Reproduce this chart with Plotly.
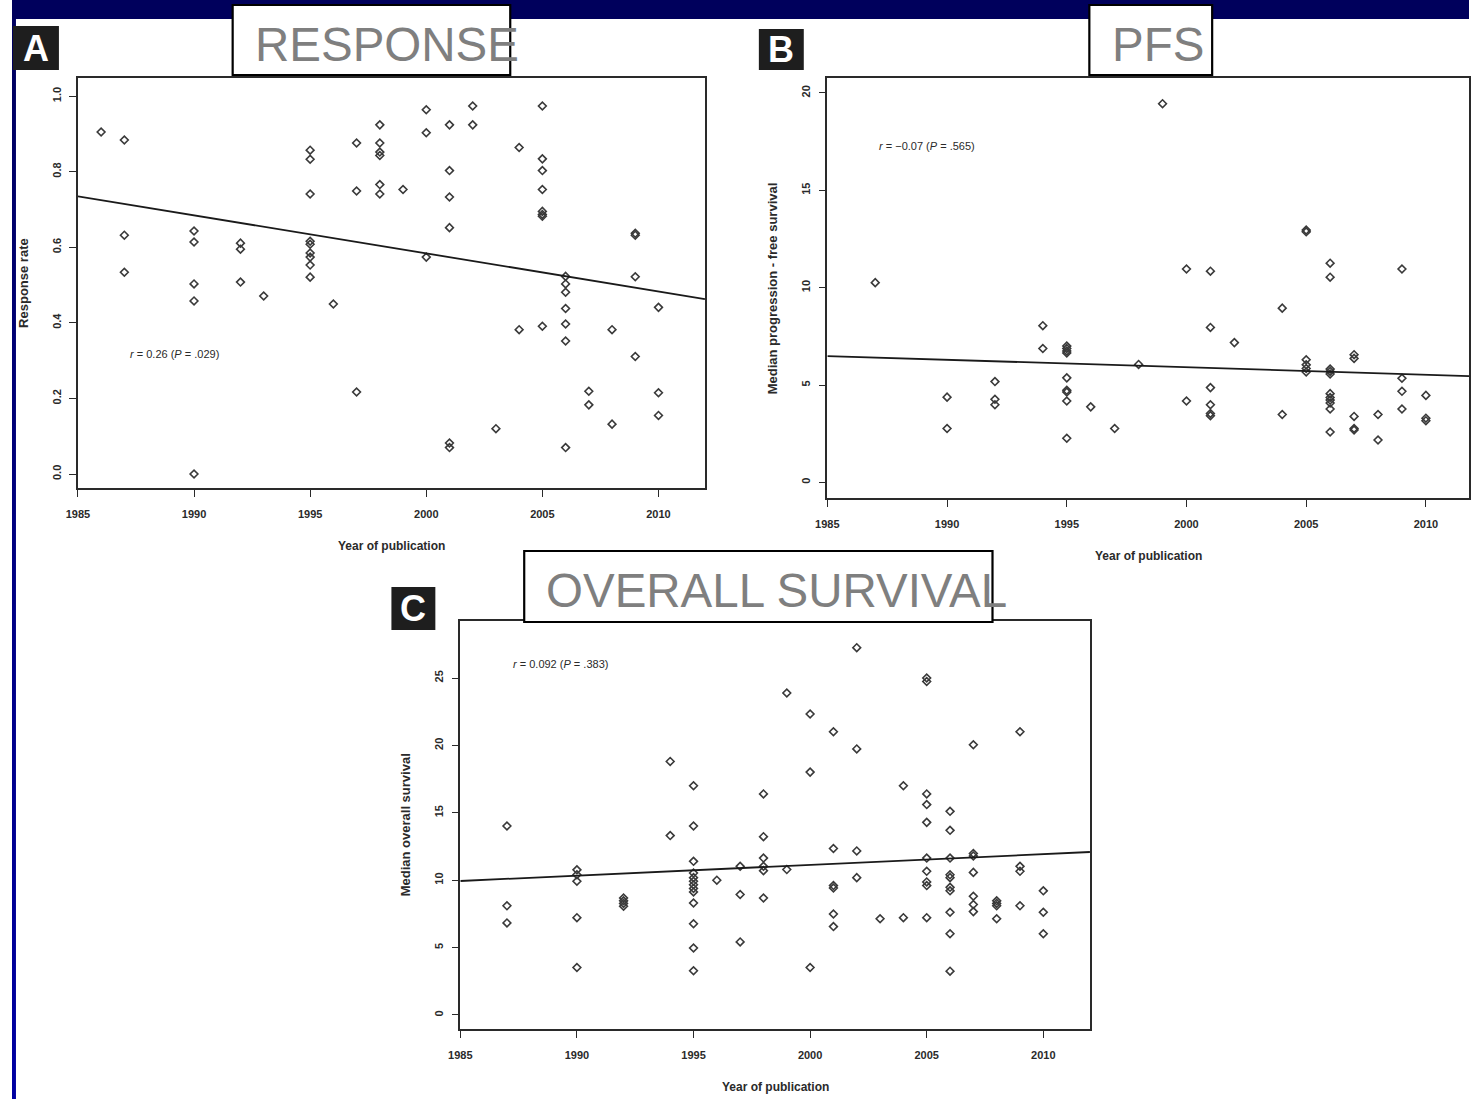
import plotly.graph_objects as go

W, H = 1471, 1099

# ---------------- data ----------------
tick_years = [1985, 1990, 1995, 2000, 2005, 2010]

# Panel A: response rate
resp_year = [1986, 1987, 1987, 1987,
             1990, 1990, 1990, 1990, 1990,
             1992, 1992, 1992, 1993,
             1995, 1995, 1995, 1995, 1995, 1995, 1995, 1995, 1995,
             1996, 1997, 1997, 1997,
             1998, 1998, 1998, 1998, 1998, 1998, 1999,
             2000, 2000, 2000,
             2001, 2001, 2001, 2001, 2001, 2001,
             2002, 2002, 2003, 2004, 2004,
             2005, 2005, 2005, 2005, 2005, 2005, 2005, 2005,
             2006, 2006, 2006, 2006, 2006, 2006, 2006,
             2007, 2007, 2008, 2008,
             2009, 2009, 2009, 2009,
             2010, 2010, 2010]
resp_rate = [0.905, 0.884, 0.632, 0.534,
             0.643, 0.614, 0.503, 0.458, 0.0,
             0.611, 0.595, 0.508, 0.471,
             0.857, 0.833, 0.741, 0.616, 0.608, 0.585, 0.574, 0.553, 0.521,
             0.450, 0.876, 0.749, 0.217,
             0.924, 0.876, 0.852, 0.843, 0.766, 0.741, 0.753,
             0.964, 0.903, 0.574,
             0.924, 0.803, 0.733, 0.652, 0.082, 0.070,
             0.974, 0.924, 0.120, 0.864, 0.382,
             0.974, 0.834, 0.803, 0.753, 0.695, 0.687, 0.682, 0.391,
             0.523, 0.503, 0.481, 0.438, 0.397, 0.352, 0.070,
             0.219, 0.183, 0.382, 0.132,
             0.637, 0.632, 0.522, 0.311,
             0.441, 0.215, 0.155]
resp_fit_x = [1985, 2012]
resp_fit_y = [0.735, 0.463]
resp_ticks = [0.0, 0.2, 0.4, 0.6, 0.8, 1.0]

# Panel B: progression-free survival
pfs_year = [1987, 1990, 1990, 1992, 1992, 1992, 1994, 1994,
            1995, 1995, 1995, 1995, 1995, 1995, 1995, 1995, 1995,
            1996, 1997, 1998, 1999, 2000, 2000,
            2001, 2001, 2001, 2001, 2001, 2001, 2002, 2004, 2004,
            2005, 2005, 2005, 2005, 2005, 2005,
            2006, 2006, 2006, 2006, 2006, 2006, 2006, 2006, 2006, 2006, 2006,
            2007, 2007, 2007, 2007, 2007, 2008, 2008,
            2009, 2009, 2009, 2009, 2010, 2010, 2010]
pfs_months = [10.26, 4.38, 2.77, 5.18, 4.27, 3.99, 8.05, 6.88,
              7.0, 6.88, 6.75, 6.65, 5.37, 4.73, 4.64, 4.18, 2.27,
              3.88, 2.77, 6.06, 19.45, 10.96, 4.18,
              10.85, 7.96, 4.87, 3.99, 3.54, 3.43, 7.18, 8.95, 3.49,
              12.96, 12.87, 6.30, 6.04, 5.85, 5.67,
              11.26, 10.54, 5.82, 5.70, 5.57, 4.56, 4.36, 4.23, 4.08, 3.77, 2.59,
              6.56, 6.37, 3.39, 2.77, 2.69, 3.49, 2.18,
              10.96, 5.35, 4.68, 3.77, 4.47, 3.30, 3.17]
pfs_fit_x = [1985, 2011.8]
pfs_fit_y = [6.49, 5.46]
pfs_ticks = [0, 5, 10, 15, 20]

# Panel C: overall survival
os_year = [1987, 1987, 1987, 1990, 1990, 1990, 1990, 1990,
           1992, 1992, 1992, 1992, 1994, 1994,
           1995, 1995, 1995, 1995, 1995, 1995, 1995, 1995, 1995, 1995, 1995, 1995, 1995,
           1996, 1997, 1997, 1997,
           1998, 1998, 1998, 1998, 1998, 1998, 1999, 1999,
           2000, 2000, 2000,
           2001, 2001, 2001, 2001, 2001, 2001,
           2002, 2002, 2002, 2002, 2003, 2004, 2004,
           2005, 2005, 2005, 2005, 2005, 2005, 2005, 2005, 2005, 2005,
           2006, 2006, 2006, 2006, 2006, 2006, 2006, 2006, 2006, 2006,
           2007, 2007, 2007, 2007, 2007, 2007, 2007,
           2008, 2008, 2008, 2008,
           2009, 2009, 2009, 2009, 2010, 2010, 2010]
os_months = [14.02, 8.10, 6.83, 10.77, 10.40, 9.92, 7.22, 3.52,
             8.68, 8.47, 8.28, 8.07, 18.81, 13.31,
             17.01, 14.02, 11.40, 10.53, 10.19, 9.92, 9.66, 9.39, 9.13, 8.31, 6.77, 4.97, 3.28,
             10.0, 11.03, 8.94, 5.42,
             16.40, 13.23, 11.64, 11.03, 10.71, 8.68, 23.89, 10.79,
             22.33, 18.02, 3.52,
             21.01, 12.35, 9.60, 9.42, 7.49, 6.56,
             27.25, 19.74, 12.17, 10.19, 7.14, 17.01, 7.22,
             25.0, 24.74, 16.40, 15.61, 14.29, 11.64, 10.66, 9.87, 9.60, 7.22,
             15.11, 13.70, 11.64, 10.40, 10.19, 9.47, 9.21, 7.62, 6.03, 3.25,
             20.05, 11.98, 11.80, 10.58, 8.81, 8.20, 7.67,
             8.47, 8.28, 8.10, 7.14,
             21.01, 11.03, 10.66, 8.10, 9.21, 7.62, 6.03]
os_fit_x = [1985, 2012]
os_fit_y = [9.94, 12.09]
os_ticks = [0, 5, 10, 15, 20, 25]

panel_titles = ["RESPONSE", "PFS", "OVERALL SURVIVAL"]
panel_letters = ["A", "B", "C"]
y_titles = ["Response rate", "Median progression - free survival", "Median overall survival"]
x_title = "Year of publication"
stat_texts = ["<i>r</i> = 0.26 (<i>P</i> = .029)",
              "<i>r</i> = \u22120.07 (<i>P</i> = .565)",
              "<i>r</i> = 0.092 (<i>P</i> = .383)"]
stat_pos = [(1987.15, 0.317), (1987.06, 17.26), (1987.19, 26.04)]

# ---------------- layout helpers ----------------
# the page shows the figure slightly offset/compressed horizontally; compensate
OX, SX = 12.0, 0.992

def px_x(v):
    return max(0.0, min(1.0, (v - OX) / SX / W))

def px_y(v):
    return 1 - v / H

FONT = "Liberation Sans, Arial, sans-serif"
INK = "#2a2a2a"
MARK = "#3a3a3a"

fig = go.Figure()

panels = [
    dict(x=resp_year, y=resp_rate, fx=resp_fit_x, fy=resp_fit_y, ticks=resp_ticks,
         dom_x=[px_x(78), px_x(706)], dom_y=[px_y(488), px_y(78)],
         xr=[1985, 2012], yr=[-0.037, 1.048], fmt=".1f"),
    dict(x=pfs_year, y=pfs_months, fx=pfs_fit_x, fy=pfs_fit_y, ticks=pfs_ticks,
         dom_x=[px_x(828.6), 1.0], dom_y=[px_y(498), px_y(78)],
         xr=[1985, 2011.8], yr=[-0.8, 20.77], fmt="d"),
    dict(x=os_year, y=os_months, fx=os_fit_x, fy=os_fit_y, ticks=os_ticks,
         dom_x=[px_x(461), px_x(1091.6)], dom_y=[px_y(1029), px_y(621)],
         xr=[1985, 2012], yr=[-1.04, 29.23], fmt="d"),
]

annotations = []
shapes = []

# background decorations: navy top band and blue left band (gradient)
shapes.append(dict(type="rect", xref="paper", yref="paper", x0=0, x1=1,
                   y0=px_y(19), y1=1, fillcolor="#00005C", line=dict(width=0), layer="below"))
nb = 24
for i in range(nb):
    t = i / (nb - 1)
    r_b = int(0x60 + (0xA2 - 0x60) * t)
    shapes.append(dict(type="rect", xref="paper", yref="paper", x0=0, x1=4 / W,
                       y0=px_y(19 + (H - 19) * (i + 1) / nb), y1=px_y(19 + (H - 19) * i / nb),
                       fillcolor="#0000%02X" % r_b, line=dict(width=0), layer="below"))

tick_font = dict(family=FONT, size=11, color=INK, weight="bold")

for k, p in enumerate(panels):
    sfx = "" if k == 0 else str(k + 1)
    xa, ya = "x" + sfx, "y" + sfx
    fig.add_trace(go.Scatter(x=p["x"], y=p["y"], mode="markers", xaxis=xa, yaxis=ya,
                             marker=dict(symbol="diamond-open", size=6, color=MARK,
                                         line=dict(width=1.6, color=MARK)),
                             showlegend=False, hoverinfo="x+y"))
    fig.add_trace(go.Scatter(x=p["fx"], y=p["fy"], mode="lines", xaxis=xa, yaxis=ya,
                             line=dict(color="#1a1a1a", width=1.8),
                             showlegend=False, hoverinfo="skip"))
    axis_common = dict(showgrid=False, zeroline=False, showline=True, mirror=True,
                       linecolor=INK, linewidth=1.6, ticks="outside", ticklen=7,
                       tickwidth=1.3, tickcolor=INK, tickfont=tick_font)
    fig.update_layout(**{
        ("xaxis" + sfx): dict(domain=p["dom_x"], range=p["xr"], tickvals=tick_years,
                              anchor=ya, ticklabelstandoff=8, **axis_common),
        ("yaxis" + sfx): dict(domain=p["dom_y"], range=p["yr"], tickvals=p["ticks"],
                              tickformat=p["fmt"], anchor=xa, tickangle=-90,
                              ticklabelstandoff=4, **axis_common),
    })
    # axis titles
    annotations.append(dict(text="<b>" + x_title + "</b>", xref=xa + " domain", yref=ya + " domain",
                            x=0.5, y=0, yshift=-58, showarrow=False, xanchor="center",
                            yanchor="middle", font=dict(family=FONT, size=12, color=INK)))
    annotations.append(dict(text="<b>" + y_titles[k] + "</b>", xref=xa + " domain", yref=ya + " domain",
                            x=0, y=0.5, xshift=-55, showarrow=False, textangle=-90,
                            xanchor="center", yanchor="middle",
                            font=dict(family=FONT, size=13, color=INK)))
    # statistics text
    annotations.append(dict(text=stat_texts[k], xref=xa, yref=ya, x=stat_pos[k][0], y=stat_pos[k][1],
                            showarrow=False, xanchor="left", yanchor="middle",
                            font=dict(family=FONT, size=11, color=INK)))

# title boxes (pixel geometry) and panel letters
title_boxes = [(233, 511, 5, 75), (1091, 1214, 5, 75), (525, 994, 551, 622)]
title_text_x = [253, 1112, 545]
letter_boxes = [(13, 59, 26, 70), (760, 805, 29, 70), (392, 436, 587, 630)]

for k in range(3):
    x0, x1, y0, y1 = title_boxes[k]
    shapes.append(dict(type="rect", xref="paper", yref="paper", x0=px_x(x0), x1=px_x(x1),
                       y0=px_y(y1), y1=px_y(y0), fillcolor="white",
                       line=dict(color="black", width=2.2), layer="above"))
    annotations.append(dict(text=panel_titles[k], xref="paper", yref="paper",
                            x=px_x(title_text_x[k]), y=px_y((y0 + y1) / 2 + 4),
                            xanchor="left", yanchor="middle", showarrow=False,
                            font=dict(family=FONT, size=47.5, color="#7F7F7F")))
    lx0, lx1, ly0, ly1 = letter_boxes[k]
    shapes.append(dict(type="rect", xref="paper", yref="paper", x0=px_x(lx0), x1=px_x(lx1),
                       y0=px_y(ly1), y1=px_y(ly0), fillcolor="#1E1E1E",
                       line=dict(width=0), layer="above"))
    annotations.append(dict(text="<b>" + panel_letters[k] + "</b>", xref="paper", yref="paper",
                            x=px_x((lx0 + lx1) / 2), y=px_y((ly0 + ly1) / 2),
                            xanchor="center", yanchor="middle", showarrow=False,
                            font=dict(family=FONT, size=36, color="white")))

fig.update_layout(width=W, height=H, margin=dict(l=0, r=0, t=0, b=0),
                  paper_bgcolor="white", plot_bgcolor="white",
                  shapes=shapes, annotations=annotations, showlegend=False)

fig.write_html("out.html")
